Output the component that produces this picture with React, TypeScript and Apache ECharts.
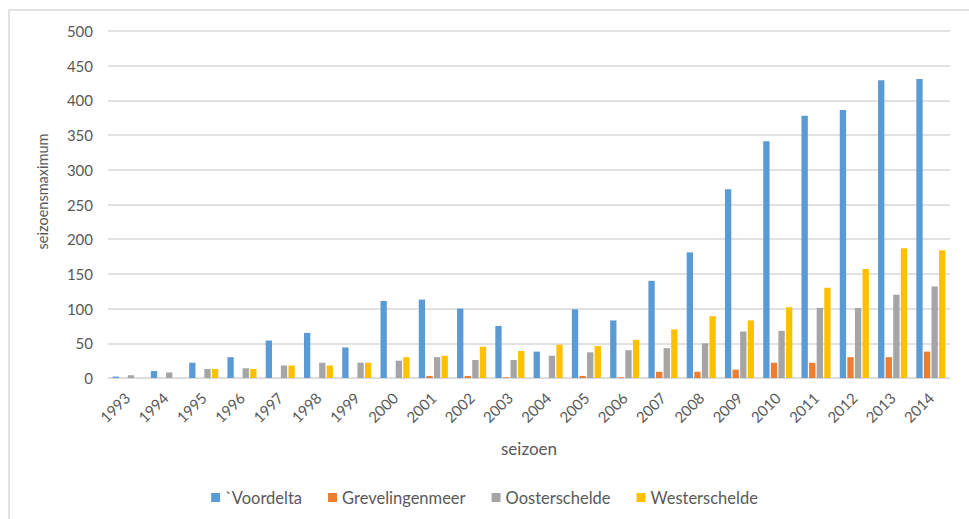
import React, { useEffect, useRef } from "react";
import * as echarts from "echarts";

const seasons = ["1993","1994","1995","1996","1997","1998","1999","2000","2001","2002","2003","2004","2005","2006","2007","2008","2009","2010","2011","2012","2013","2014"];
const voordelta = [2, 10, 22, 30, 54, 65, 44, 111, 113, 100, 75, 38, 99, 83, 140, 181, 272, 341, 378, 386, 429, 431];
const grevelingenmeer = [0, 0, 0, 0, 0, 0, 0, 0, 3, 3, 1, 0, 3, 1, 9, 9, 12, 22, 22, 30, 30, 38];
const oosterschelde = [4, 8, 13, 14, 18, 22, 22, 25, 30, 26, 26, 32, 37, 40, 43, 50, 67, 68, 101, 101, 120, 132];
const westerschelde = [0, 0, 13, 13, 18, 18, 22, 30, 32, 45, 39, 48, 46, 55, 70, 89, 83, 102, 130, 157, 187, 184];
const seriesNames = ["`Voordelta", "Grevelingenmeer", "Oosterschelde", "Westerschelde"];
const colors = ["#5B9BD5", "#ED7D31", "#A5A5A5", "#FFC000"];

const FONT = "Lato, 'Liberation Sans', sans-serif";

export default function App() {
  const ref = useRef<HTMLDivElement>(null);
  useEffect(() => {
    if (!ref.current) return;
    const chart = echarts.init(ref.current, null, { renderer: "svg" });
    const data = [voordelta, grevelingenmeer, oosterschelde, westerschelde];
    chart.setOption({
      animation: false,
      backgroundColor: "#ffffff",
      textStyle: { fontFamily: FONT },
      graphic: [
        {
          type: "rect",
          shape: { x: 9, y: 10, width: 1000, height: 1000 },
          style: { fill: "none", stroke: "#D9D9D9", lineWidth: 1.5 },
          silent: true,
        },
      ],
      grid: { left: 108, right: 19, top: 31, bottom: 141 },
      legend: {
        bottom: 8,
        left: "center",
        itemWidth: 9,
        itemHeight: 9,
        itemGap: 26,
        icon: "rect",
        textStyle: { color: "#595959", fontSize: 16.5, fontFamily: FONT },
        data: seriesNames,
      },
      xAxis: {
        type: "category",
        data: seasons,
        name: "seizoen",
        nameLocation: "middle",
        nameGap: 62,
        nameTextStyle: { color: "#595959", fontSize: 17, fontFamily: FONT },
        axisLine: { lineStyle: { color: "#D9D9D9", width: 1 } },
        axisTick: { show: false },
        axisLabel: { rotate: 45, color: "#595959", fontSize: 15, margin: 17, fontFamily: FONT },
      },
      yAxis: {
        type: "value",
        min: 0,
        max: 500,
        interval: 50,
        name: "seizoensmaximum",
        nameLocation: "middle",
        nameGap: 58,
        nameTextStyle: { color: "#595959", fontSize: 14.5, fontFamily: FONT, padding: [0, 0, 0, 26] },
        axisLine: { show: false },
        axisTick: { show: false },
        axisLabel: { color: "#595959", fontSize: 15, margin: 15, fontFamily: FONT },
        splitLine: { lineStyle: { color: "#D9D9D9", width: 1.5 } },
      },
      series: seriesNames.map((n, i) => ({
        name: n,
        type: "bar",
        data: data[i],
        barGap: "20%",
        barCategoryGap: "24%",
        itemStyle: { color: colors[i] },
      })),
    });
    return () => chart.dispose();
  }, []);
  return (
    <div
      ref={ref}
      style={{ position: "fixed", left: 0, top: 0, width: 969, height: 519 }}
    />
  );
}
